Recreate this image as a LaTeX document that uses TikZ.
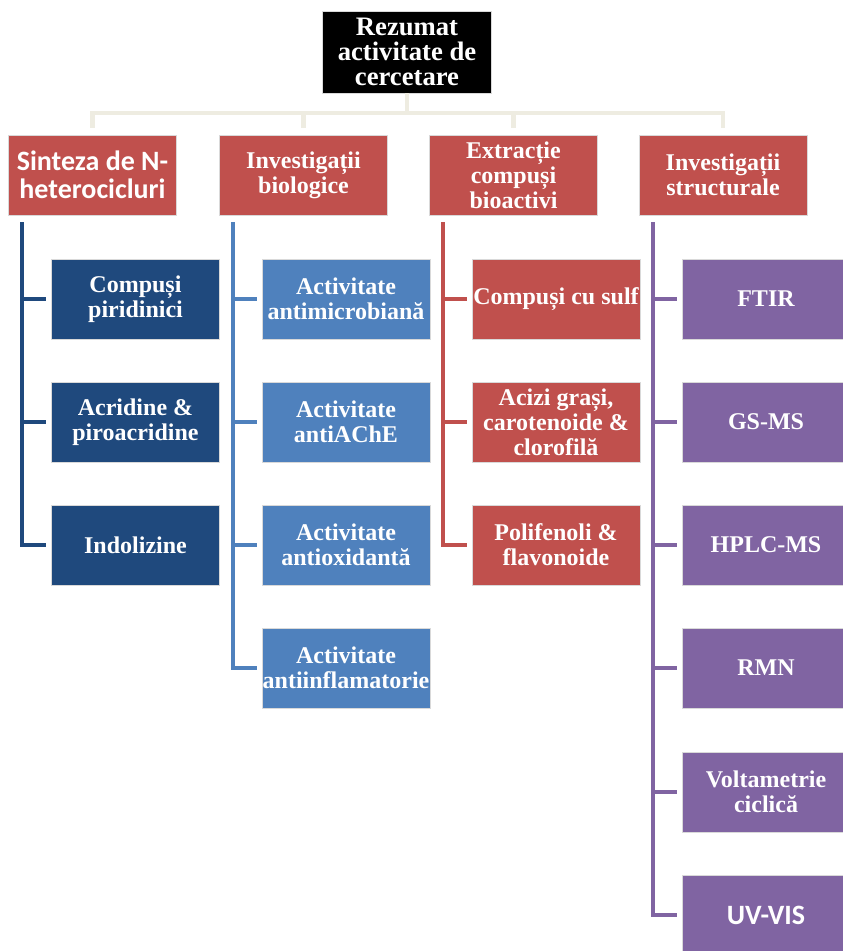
\documentclass[tikz,border=0pt]{standalone}
\usepackage{fontspec}
\setmainfont{Liberation Serif}
\newfontfamily\calibri{Carlito}
\usepackage{xcolor}
\definecolor{darkblue}{RGB}{31,73,125}
\definecolor{midblue}{RGB}{79,129,189}
\definecolor{brickred}{RGB}{192,80,77}
\definecolor{violetbox}{RGB}{128,100,162}
\definecolor{beigeline}{RGB}{238,236,225}

\begin{document}
\begin{tikzpicture}[x=0.75pt,y=-0.75pt,
	box/.style={minimum width=126pt, minimum height=60pt, inner sep=0pt, align=center,
		text=white, draw=white!85!black, line width=0.3pt,
		font=\bfseries\fontsize{18}{18.8}\selectfont},
	rootbox/.style={box, fill=black, minimum width=127pt, minimum height=61.5pt,
		font=\bfseries\fontsize{20}{18.8}\selectfont},
	topbox/.style={box, fill=brickred},
	sansbox/.style={font=\calibri\bfseries\fontsize{21}{21}\selectfont},
	spine/.style={line width=3pt},
	busline/.style={line width=3.5pt, beigeline}]
	\useasboundingbox (0,0) rectangle (843,951);

	% root and first level
	\node[rootbox] (root) at (407,52) {Rezumat\\activitate de\\cercetare};
	\node[topbox, sansbox] (sint) at (92.5,175) {Sinteza de N-\\heterocicluri};
	\node[topbox] (bio) at (303.5,175) {Investigații\\biologice};
	\node[topbox] (extr) at (513.5,175) {Extracție\\compuși\\bioactivi};
	\node[topbox] (struct) at (723,175) {Investigații\\structurale};

	\coordinate (bus) at (407,113);
	\draw[busline] (root) -- (bus);
	\draw[busline] ([yshift=5pt]sint.north) |- (bus) -| ([yshift=5pt]struct.north);
	\draw[busline] (bus -| bio.north) -- ([yshift=5pt]bio.north);
	\draw[busline] (bus -| extr.north) -- ([yshift=5pt]extr.north);

	% column 1
	\node[box, fill=darkblue] (pir) at (135.5,299) {Compuși\\piridinici};
	\node[box, fill=darkblue] (acr) at (135.5,422) {Acridine \&\\piroacridine};
	\node[box, fill=darkblue] (ind) at (135.5,545) {Indolizine};
	\coordinate (sp1) at (22,222);
	\draw[spine, darkblue] (sp1) |- ([xshift=-3.75pt]ind.west);
	\draw[spine, darkblue] (sp1 |- pir.west) -- ([xshift=-3.75pt]pir.west);
	\draw[spine, darkblue] (sp1 |- acr.west) -- ([xshift=-3.75pt]acr.west);

	% column 2
	\node[box, fill=midblue] (micro) at (346,299) {Activitate\\antimicrobiană};
	\node[box, fill=midblue] (ache) at (346,422) {Activitate\\antiAChE};
	\node[box, fill=midblue] (oxid) at (346,545) {Activitate\\antioxidantă};
	\node[box, fill=midblue] (infl) at (346,668) {Activitate\\antiinflamatorie};
	\coordinate (sp2) at (233,222);
	\draw[spine, midblue] (sp2) |- ([xshift=-3.75pt]infl.west);
	\draw[spine, midblue] (sp2 |- micro.west) -- ([xshift=-3.75pt]micro.west);
	\draw[spine, midblue] (sp2 |- ache.west) -- ([xshift=-3.75pt]ache.west);
	\draw[spine, midblue] (sp2 |- oxid.west) -- ([xshift=-3.75pt]oxid.west);

	% column 3
	\node[box, fill=brickred] (sulf) at (556,299) {Compuși cu sulf};
	\node[box, fill=brickred] (acizi) at (556,422) {Acizi grași,\\carotenoide \&\\clorofilă};
	\node[box, fill=brickred] (poli) at (556,545) {Polifenoli \&\\flavonoide};
	\coordinate (sp3) at (443,222);
	\draw[spine, brickred] (sp3) |- ([xshift=-3.75pt]poli.west);
	\draw[spine, brickred] (sp3 |- sulf.west) -- ([xshift=-3.75pt]sulf.west);
	\draw[spine, brickred] (sp3 |- acizi.west) -- ([xshift=-3.75pt]acizi.west);

	% column 4
	\node[box, fill=violetbox] (ftir) at (766,299) {FTIR};
	\node[box, fill=violetbox] (gsms) at (766,422) {GS-MS};
	\node[box, fill=violetbox] (hplc) at (766,545) {HPLC-MS};
	\node[box, fill=violetbox] (rmn) at (766,668) {RMN};
	\node[box, fill=violetbox] (volt) at (766,792) {Voltametrie\\ciclică};
	\node[box, fill=violetbox, sansbox] (uvvis) at (766,915) {UV-VIS};
	\coordinate (sp4) at (653,222);
	\draw[spine, violetbox] (sp4) |- ([xshift=-3.75pt]uvvis.west);
	\draw[spine, violetbox] (sp4 |- ftir.west) -- ([xshift=-3.75pt]ftir.west);
	\draw[spine, violetbox] (sp4 |- gsms.west) -- ([xshift=-3.75pt]gsms.west);
	\draw[spine, violetbox] (sp4 |- hplc.west) -- ([xshift=-3.75pt]hplc.west);
	\draw[spine, violetbox] (sp4 |- rmn.west) -- ([xshift=-3.75pt]rmn.west);
	\draw[spine, violetbox] (sp4 |- volt.west) -- ([xshift=-3.75pt]volt.west);
\end{tikzpicture}
\end{document}
